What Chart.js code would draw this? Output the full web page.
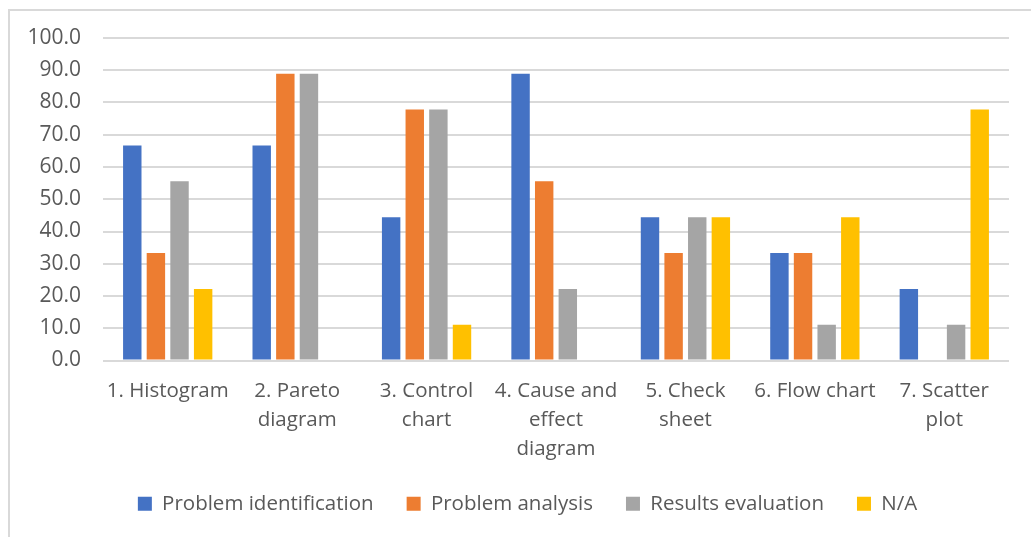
<!DOCTYPE html>
<html>
<head>
<meta charset="utf-8">
<script src="https://cdn.jsdelivr.net/npm/chart.js@4/dist/chart.umd.min.js"></script>
<style>
  html, body { margin: 0; padding: 0; background: #ffffff; overflow: hidden; }
  #wrap { position: relative; width: 1031px; height: 537px; }
  #frame { position: absolute; left: 8px; top: 9px; width: 1030px; height: 600px;
           border-top: 2px solid #d9d9d9; border-left: 2px solid #d9d9d9; box-sizing: border-box; }
  #c { position: absolute; left: 0; top: 0; }
</style>
</head>
<body>
<div id="wrap">
  <div id="frame"></div>
  <canvas id="c" width="1031" height="537"></canvas>
</div>
<script>
// Quality tools and the share (%) of uses in each stage
const categories = [
  ["1. Histogram"],
  ["2. Pareto", "diagram"],
  ["3. Control", "chart"],
  ["4. Cause and", "effect", "diagram"],
  ["5. Check", "sheet"],
  ["6. Flow chart"],
  ["7. Scatter", "plot"]
];
const seriesNames = ["Problem identification", "Problem analysis", "Results evaluation", "N/A"];
const problemIdentification = [66.7, 66.7, 44.4, 88.9, 44.4, 33.3, 22.2];
const problemAnalysis       = [33.3, 88.9, 77.8, 55.6, 33.3, 33.3, 0.0];
const resultsEvaluation     = [55.6, 88.9, 77.8, 22.2, 44.4, 11.1, 11.1];
const notApplicable         = [22.2, 0.0, 11.1, 0.0, 44.4, 44.4, 77.8];
const yTicks = [0, 10, 20, 30, 40, 50, 60, 70, 80, 90, 100];

const colors = ["#4472C4", "#ED7D31", "#A5A5A5", "#FFC000"];
const seriesData = [problemIdentification, problemAnalysis, resultsEvaluation, notApplicable];

const FONT = "'Open Sans', sans-serif";
const TEXT = "#595959";

// Centre the legend under the whole frame rather than under the layout box
const legendOffset = {
  id: "legendOffset",
  afterLayout(chart) {
    const lg = chart.legend;
    if (!lg) return;
    const dx = 23, dy = -12;
    lg.left += dx; lg.right += dx;
    lg.top += dy; lg.bottom += dy;
  }
};

new Chart(document.getElementById("c"), {
  type: "bar",
  data: {
    labels: categories,
    datasets: seriesNames.map((name, i) => ({
      label: name,
      data: seriesData[i],
      backgroundColor: colors[i],
      borderWidth: 0,
      categoryPercentage: 0.73,
      barPercentage: 0.78
    }))
  },
  options: {
    responsive: false,
    animation: false,
    layout: { padding: { top: 38, right: 22, bottom: 1, left: 0 } },
    plugins: {
      tooltip: { enabled: false },
      legend: {
        position: "bottom",
        labels: {
          color: TEXT,
          font: { family: FONT, size: 20.5 },
          boxWidth: 14,
          boxHeight: 14,
          padding: 33
        }
      }
    },
    scales: {
      y: {
        min: 0,
        max: 100,
        afterBuildTicks: (scale) => { scale.ticks = yTicks.map(v => ({ value: v })); },
        afterFit: (scale) => { scale.width = 103; },
        ticks: {
          color: TEXT,
          font: { family: FONT, size: 21 },
          padding: 22,
          callback: (v) => Number(v).toFixed(1)
        },
        grid: { color: "#d9d9d9", lineWidth: 2, drawTicks: false },
        border: { display: false }
      },
      x: {
        afterFit: (scale) => { scale.height = 112; },
        ticks: {
          color: TEXT,
          font: { family: FONT, size: 20.5, lineHeight: 1.42 },
          padding: 16,
          maxRotation: 0,
          autoSkip: false
        },
        grid: { display: false, drawTicks: false },
        border: { display: false }
      }
    }
  },
  plugins: [legendOffset]
});
</script>
</body>
</html>
